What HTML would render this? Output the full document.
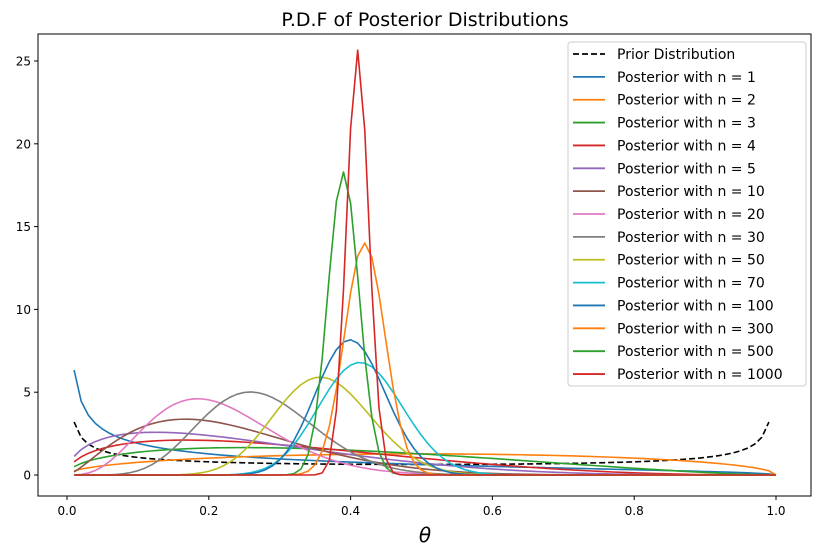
<!DOCTYPE html>
<html><head><meta charset="utf-8"><style>
body{margin:0;background:#fff;font-family:"Liberation Sans","DejaVu Sans",sans-serif;}
svg text{font-family:"DejaVu Sans","Liberation Sans",sans-serif;}
</style></head><body>
<svg id="chart" width="822" height="555" xmlns="http://www.w3.org/2000/svg">
<text x="425" y="26" font-size="19" text-anchor="middle" fill="#000">P.D.F of Posterior Distributions</text>
<g id="plot"></g>
<rect x="38" y="34" width="773" height="462" fill="none" stroke="#000" stroke-width="1"/>
<g id="xticks"></g>
<g id="yticks"></g>
<text x="425" y="542" font-size="20" font-style="italic" text-anchor="middle">θ</text>
<g id="legend"></g>
</svg>
<script>
// Observed data for each curve: trials n and successes k (prior: n=0,k=0), Jeffreys prior Beta(0.5,0.5)
const labels = ["Prior Distribution","Posterior with n = 1","Posterior with n = 2","Posterior with n = 3","Posterior with n = 4","Posterior with n = 5","Posterior with n = 10","Posterior with n = 20","Posterior with n = 30","Posterior with n = 50","Posterior with n = 70","Posterior with n = 100","Posterior with n = 300","Posterior with n = 500","Posterior with n = 1000"];
const trials = [0,1,2,3,4,5,10,20,30,50,70,100,300,500,1000];
const successes = [0,0,1,1,1,1,2,4,8,18,29,40,126,195,410];
const colors = ["#000000","#1f77b4","#ff7f0e","#2ca02c","#d62728","#9467bd","#8c564b","#e377c2","#7f7f7f","#bcbd22","#17becf","#1f77b4","#ff7f0e","#2ca02c","#d62728"];
const xTicks = [0,0.2,0.4,0.6,0.8,1.0];
const xTickLabels = ["0.0","0.2","0.4","0.6","0.8","1.0"];
const yTicks = [0,5,10,15,20,25];

const NS="http://www.w3.org/2000/svg";
const xs = v => 67 + v*709;
const ys = v => 475 - v*16.56;
function lgamma(z){const g=7,c=[0.99999999999980993,676.5203681218851,-1259.1392167224028,771.32342877765313,-176.61502916214059,12.507343278686905,-0.13857109526572012,9.9843695780195716e-6,1.5056327351493116e-7];
 if(z<0.5) return Math.log(Math.PI/Math.sin(Math.PI*z))-lgamma(1-z);
 z-=1;let x=c[0];for(let i=1;i<g+2;i++)x+=c[i]/(z+i);const t=z+g+0.5;
 return 0.5*Math.log(2*Math.PI)+(z+0.5)*Math.log(t)-t+Math.log(x);}
function pdf(x,a,b){if(x<=0||x>=1){if(x>=1&&b>1)return 0;if(x>=1)return NaN;}
 if(x>=1)return 0;return Math.exp((a-1)*Math.log(x)+(b-1)*Math.log(1-x)+lgamma(a+b)-lgamma(a)-lgamma(b));}
function el(t,attrs,parent){const e=document.createElementNS(NS,t);for(const k in attrs)e.setAttribute(k,attrs[k]);parent.appendChild(e);return e;}

const plot=document.getElementById('plot');
for(let s=0;s<trials.length;s++){
 const a=0.5+successes[s], b=0.5+trials[s]-successes[s];
 let pts=[];
 for(let i=1;i<=100;i++){const x=i/100;const y=pdf(x,a,b);if(isFinite(y))pts.push(xs(x).toFixed(2)+","+ys(y).toFixed(2));}
 const p=el('polyline',{points:pts.join(' '),fill:'none',stroke:colors[s],'stroke-width':1.6,'stroke-linejoin':'round'},plot);
 if(s===0)p.setAttribute('stroke-dasharray','6,3');
 
 
}
const xg=document.getElementById('xticks');
xTicks.forEach((v,i)=>{
 const l=el('line',{x1:xs(v),x2:xs(v),y1:496,y2:500,stroke:'#000'},xg);
 
 
 const t=el('text',{x:xs(v),y:515,'font-size':12,'text-anchor':'middle'},xg);t.textContent=xTickLabels[i];
 
 
});
const yg=document.getElementById('yticks');
yTicks.forEach(v=>{
 const l=el('line',{x1:34,x2:38,y1:ys(v),y2:ys(v),stroke:'#000'},yg);
 
 
 const t=el('text',{x:31,y:ys(v)+4.5,'font-size':12,'text-anchor':'end'},yg);t.textContent=String(v);
 
 
});
const lg=document.getElementById('legend');
const box=el('rect',{x:568,y:42,width:238,height:344,rx:3,fill:'#fff','fill-opacity':0.85,stroke:'#ccc'},lg);


labels.forEach((lab,i)=>{
 const y=54+i*22.86;
 const g=el('g',{},lg);
 
 
 const l=el('line',{x1:573,x2:605,y1:y,y2:y,stroke:colors[i],'stroke-width':1.8},g);
 if(i===0)l.setAttribute('stroke-dasharray','6,3');
 const t=el('text',{x:617,y:y+5,'font-size':14},g);t.textContent=lab;
});
</script>
</body></html>
